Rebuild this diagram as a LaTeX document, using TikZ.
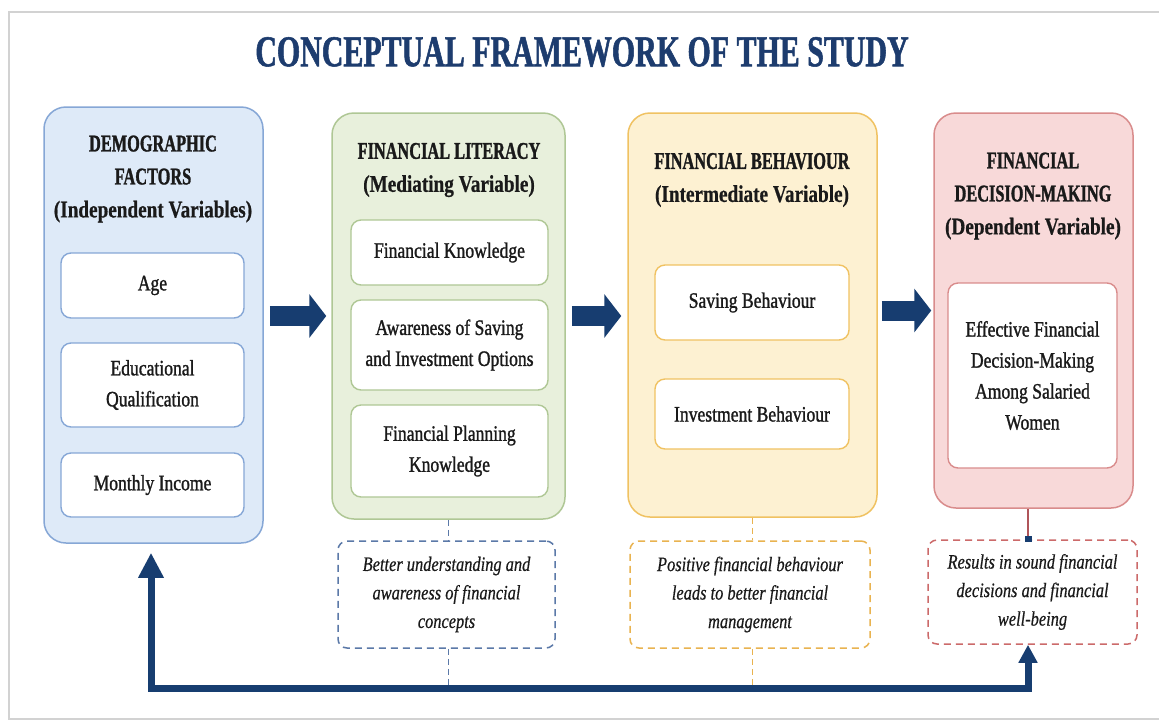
\documentclass[tikz,border=0pt]{standalone}
\usepackage{fontspec}
\setmainfont[FakeStretch=0.8]{Liberation Serif}
\newfontfamily\capfont[FakeStretch=0.68, BoldFeatures={FakeBold=1.2}]{Liberation Serif}
\newfontfamily\subfont[FakeStretch=0.8, BoldFeatures={FakeBold=0.6}]{Liberation Serif}
\newfontfamily\midfont[FakeStretch=0.8,FakeBold=1.2]{Liberation Serif}
\newfontfamily\notefont[FakeStretch=0.8,FakeBold=0.5]{Liberation Serif}
\usetikzlibrary{arrows.meta}

\definecolor{navy}{HTML}{173D70}
\definecolor{titleblue}{HTML}{1D3C6E}
\definecolor{ink}{HTML}{1A1A1A}
\definecolor{bluefill}{HTML}{DEEAF8}
\definecolor{blueline}{HTML}{86A7D6}
\definecolor{greenfill}{HTML}{E8F0DC}
\definecolor{greenline}{HTML}{AFC795}
\definecolor{yellowfill}{HTML}{FDF1D2}
\definecolor{yellowline}{HTML}{F0C262}
\definecolor{pinkfill}{HTML}{F8D9D9}
\definecolor{pinkline}{HTML}{D98C8C}
\definecolor{dashblue}{HTML}{5B79A8}
\definecolor{dashorange}{HTML}{E9B350}
\definecolor{dashred}{HTML}{CC6A6A}
\definecolor{linkred}{HTML}{B0555A}
\definecolor{framegray}{HTML}{D2D2D2}

\begin{document}
\begin{tikzpicture}[x=1pt,y=-1pt,
  panel/.style={draw, rounded corners=22pt, line width=1.5pt, inner sep=0pt},
  item/.style={draw, fill=white, rounded corners=10pt, line width=1.4pt,
    inner sep=0pt, align=center, text=ink,
    font=\midfont\fontsize{22}{31}\selectfont},
  head/.style={align=center, text=ink, inner sep=0pt,
    font=\bfseries\fontsize{24}{33}\selectfont},
  note/.style={draw, dash pattern=on 7pt off 5pt, rounded corners=9pt,
    line width=1.5pt, fill=white, inner sep=0pt, align=center, text=ink,
    font=\notefont\itshape\fontsize{20.5}{28.5}\selectfont},
  bigarrow/.style={navy, line width=20pt, -{Triangle[length=17pt,width=43pt]}},
  feedback/.style={navy, line width=7pt},
  link/.style={line width=1.5pt, dash pattern=on 6pt off 4pt}
]
% page and frame
\useasboundingbox (0,0) rectangle (1159,721);
\fill[white] (0,0) rectangle (1159,721);
\draw[framegray, line width=2pt] (1159,12) -- (9,12) -- (9,719) -- (1159,719);

% title
\node[text=titleblue, inner sep=0pt,
  font=\capfont\bfseries\fontsize{44}{50}\selectfont] (title) at (582,52)
  {CONCEPTUAL FRAMEWORK OF THE STUDY};

% four panels
\node[panel, draw=blueline, fill=bluefill, minimum width=219pt, minimum height=436pt] (demo) at (153.5,325) {};
\node[panel, draw=greenline, fill=greenfill, minimum width=233pt, minimum height=406pt] (lit) at (448.5,316) {};
\node[panel, draw=yellowline, fill=yellowfill, minimum width=249pt, minimum height=404pt] (beh) at (752.5,315) {};
\node[panel, draw=pinkline, fill=pinkfill, minimum width=199pt, minimum height=395pt] (dec) at (1033.5,310.5) {};

% panel headings
\node[head] (demoT) at (153,179) {\capfont\bfseries DEMOGRAPHIC\\\capfont\bfseries FACTORS\\\subfont\bfseries (Independent Variables)};
\node[head] (litT) at (449,170) {\capfont\bfseries FINANCIAL LITERACY\\\subfont\bfseries (Mediating Variable)};
\node[head] (behT) at (752,180) {\capfont\bfseries FINANCIAL BEHAVIOUR\\\subfont\bfseries (Intermediate Variable)};
\node[head] (decT) at (1033,196) {\capfont\bfseries FINANCIAL\\\capfont\bfseries DECISION-MAKING\\\subfont\bfseries (Dependent Variable)};

% items inside the panels
\node[item, draw=blueline, minimum width=183pt, minimum height=65pt] (age) at (152.5,285.5) {Age};
\node[item, draw=blueline, minimum width=183pt, minimum height=84pt] (edu) at (152.5,385) {Educational\\Qualification};
\node[item, draw=blueline, minimum width=183pt, minimum height=64pt] (inc) at (152.5,485) {Monthly Income};

\node[item, draw=greenline, minimum width=197pt, minimum height=65pt] (fk) at (449.5,252.5) {Financial Knowledge};
\node[item, draw=greenline, minimum width=197pt, minimum height=90pt] (aw) at (449.5,345) {Awareness of Saving\\and Investment Options};
\node[item, draw=greenline, minimum width=197pt, minimum height=92pt] (fp) at (449.5,451) {Financial Planning\\Knowledge};

\node[item, draw=yellowline, minimum width=194pt, minimum height=75pt] (sb) at (752,302.5) {Saving Behaviour};
\node[item, draw=yellowline, minimum width=194pt, minimum height=70pt] (ib) at (752,414) {Investment Behaviour};

\node[item, draw=pinkline, minimum width=169pt, minimum height=185pt] (ef) at (1032.5,375.5) {Effective Financial\\Decision-Making\\Among Salaried\\Women};

% outcome notes
\node[note, draw=dashblue, minimum width=217pt, minimum height=107pt] (n1) at (446.5,594.5) {Better understanding and\\awareness of financial\\concepts};
\node[note, draw=dashorange, minimum width=240pt, minimum height=107pt] (n2) at (750,594.5) {Positive financial behaviour\\leads to better financial\\management};
\node[note, draw=dashred, minimum width=209pt, minimum height=104pt] (n3) at (1032.5,592) {Results in sound financial\\decisions and financial\\well-being};

% flow arrows between panels
\draw[bigarrow] ([xshift=6pt]demo.east |- lit.west) -- ([xshift=-5pt]lit.west);
\draw[bigarrow] ([xshift=6pt]lit.east) -- ([xshift=-6pt]beh.west |- lit.east);
\draw[bigarrow] ([xshift=4pt]beh.east |- dec.west) -- ([xshift=-2pt]dec.west);

% feedback loop
\coordinate (fbL) at (151,688);
\coordinate (fbR) at (1028,688);
\draw[feedback, {Triangle[length=18pt,width=18pt]}-{Triangle[length=25pt,width=24pt]}, line join=miter]
  (n3.south -| fbR) -- (fbR) -- (fbL) -- ([yshift=-9pt]demo.south -| fbL);

% links from panels to notes and down to the loop
\draw[link, dashblue] (lit.south) -- (lit.south |- n1.north);
\draw[link, dashblue] (n1.south -| lit.south) -- (lit.south |- fbL);
\draw[link, dashorange] (beh.south) -- (beh.south |- n2.north);
\draw[link, dashorange] (n2.south -| beh.south) -- (beh.south |- fbL);
\draw[linkred, line width=1.8pt, -{Square[length=6pt,width=7pt,color=navy]}]
  (dec.south -| fbR) -- ([yshift=-3pt]n3.north -| fbR);
\end{tikzpicture}
\end{document}
